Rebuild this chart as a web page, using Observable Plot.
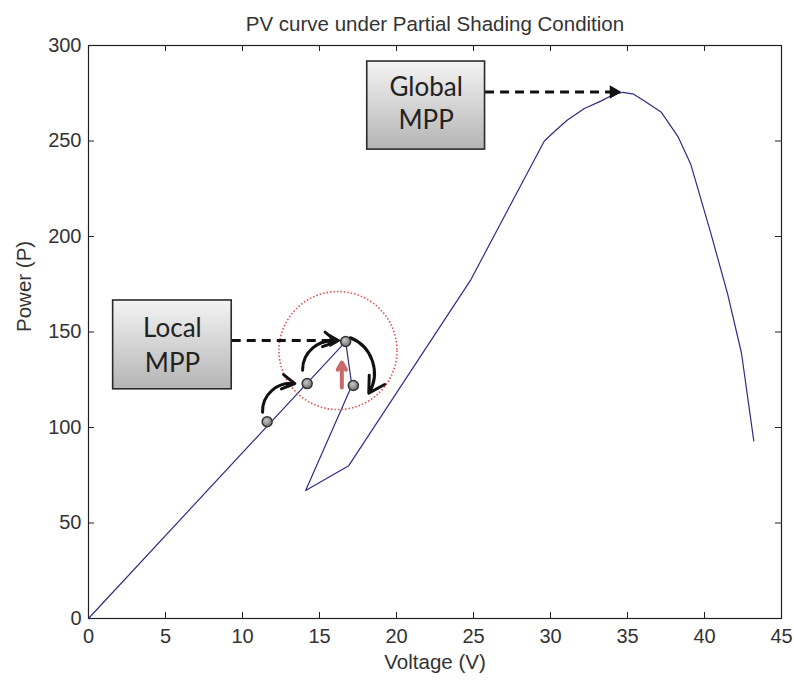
<!DOCTYPE html>
<html><head><meta charset="utf-8">
<script src="https://cdn.jsdelivr.net/npm/d3@7"></script>
<script src="https://cdn.jsdelivr.net/npm/@observablehq/plot@0.6"></script>
<style>html,body{margin:0;padding:0;background:#fff;}</style>
</head><body><div id="chart"></div>
<script>
const title = "PV curve under Partial Shading Condition";
const xLabel = "Voltage (V)";
const yLabel = "Power (P)";
const xTicks = [0, 5, 10, 15, 20, 25, 30, 35, 40, 45];
const yTicks = [0, 50, 100, 150, 200, 250, 300];

// PV curve
const voltage = [0, 16.7, 17.1, 14.1, 16.9, 24.8, 29.6, 30.4, 31.1, 32.2, 33.3, 34.0, 34.7, 35.4, 36.1, 37.2, 38.3, 39.1, 40.4, 41.5, 42.4, 43.2];
const power   = [0, 145, 122, 67, 80, 177, 250, 256, 261, 267, 271, 274, 275.5, 274.5, 271, 265, 252, 238, 202, 170, 139, 93];

// tracking points (local MPP search)
const trackVoltage = [11.6, 14.2, 16.7, 17.2];
const trackPower   = [103, 123, 145, 122];

// curved hop arrows between tracking points
const hopFromV = [11.3, 13.9, 17.0];
const hopFromP = [108, 130, 147];
const hopToV   = [13.4, 16.1, 18.2];
const hopToP   = [123, 145, 118];

// callout boxes
const calloutLine1 = ["Local", "Global"];
const calloutLine2 = ["MPP", "MPP"];
const boxV1 = [1.6, 18.1];
const boxV2 = [9.3, 25.75];
const boxP1 = [120, 245.5];
const boxP2 = [166.5, 291.6];
const line1P = [147.5, 273.8];
const line2P = [129, 256.4];

// dashed pointers
const pointerFromV = [9.3, 25.75];
const pointerToV   = [15.9, 34.1];
const pointerP     = [145.5, 275.6];

// red focus circle and small red arrow
const focusV = [16.2];
const focusP = [140.3];
const nudgeV = [16.45];
const nudgeFromP = [121];
const nudgeToP = [134];

const W = 794, H = 681, mL = 88, mR = 13, mT = 45, mB = 63;
const tickX = 6 * 45 / (W - mL - mR);
const tickY = 6 * 300 / (H - mT - mB);

const curve = voltage.map((v, i) => ({v, p: power[i]}));
const track = trackVoltage.map((v, i) => ({v, p: trackPower[i]}));
const hops = hopFromV.map((v, i) => ({v1: v, p1: hopFromP[i], v2: hopToV[i], p2: hopToP[i]}));
const boxes = boxV1.map((v, i) => ({v1: v, v2: boxV2[i], p1: boxP1[i], p2: boxP2[i], t1: calloutLine1[i], t2: calloutLine2[i], c: (v + boxV2[i]) / 2, l1: line1P[i], l2: line2P[i]}));
const pointers = pointerFromV.map((v, i) => ({v1: v, v2: pointerToV[i], p: pointerP[i]}));

const plot = Plot.plot({
  width: W, height: H,
  marginLeft: mL, marginRight: mR, marginTop: mT, marginBottom: mB,
  style: {fontFamily: "'Liberation Sans', Arial, sans-serif", background: "#fff", color: "#333"},
  x: {domain: [0, 45]},
  y: {domain: [0, 300]},
  marks: [
    Plot.axisX(xTicks, {tickSize: 0, tickPadding: 10, fontSize: 20, fill: "#333", label: null}),
    Plot.axisY(yTicks, {tickSize: 0, tickPadding: 7, fontSize: 20, fill: "#333", label: null}),
    Plot.ruleX(xTicks, {x: d => d, y1: 0, y2: tickY, stroke: "#222"}),
    Plot.ruleX(xTicks, {x: d => d, y1: 300 - tickY, y2: 300, stroke: "#222"}),
    Plot.ruleY(yTicks, {y: d => d, x1: 0, x2: tickX, stroke: "#222"}),
    Plot.ruleY(yTicks, {y: d => d, x1: 45 - tickX, x2: 45, stroke: "#222"}),
    Plot.frame({stroke: "#222", strokeWidth: 1.2}),
    Plot.text([title], {frameAnchor: "top", lineAnchor: "bottom", dy: -15, fontSize: 20.5, fill: "#333"}),
    Plot.text([xLabel], {frameAnchor: "bottom", lineAnchor: "bottom", dy: 50, fontSize: 20.5, fill: "#333"}),
    Plot.text([yLabel], {frameAnchor: "left", lineAnchor: "bottom", rotate: -90, dx: -58, fontSize: 20.5, fill: "#333"}),
    // curve
    Plot.line(curve, {x: "v", y: "p", stroke: "#2d2d85", strokeWidth: 1.2}),
    // focus circle
    Plot.dot(focusV.map((v, i) => ({v, p: focusP[i]})), {x: "v", y: "p", r: 59, stroke: "#e05050", strokeWidth: 1.6, strokeDasharray: "1.5,2", fill: "none"}),
    // red arrow
    Plot.arrow(nudgeV.map((v, i) => ({v, a: nudgeFromP[i], b: nudgeToP[i]})), {x1: "v", x2: "v", y1: "a", y2: "b", stroke: "#c0504d", strokeOpacity: 0.85, strokeWidth: 4, headLength: 8}),
    // hop arrows
    Plot.arrow(hops, {x1: "v1", y1: "p1", x2: "v2", y2: "p2", bend: 50, stroke: "#111", strokeWidth: 3, headLength: 9}),
    // tracking points
    Plot.dot(track, {x: "v", y: "p", r: 5, fill: "url(#dotGrad)", stroke: "#333", strokeWidth: 1.5}),
    // dashed pointers
    Plot.link(pointers, {x1: "v1", x2: "v2", y1: "p", y2: "p", stroke: "#111", strokeWidth: 3, strokeDasharray: "9,6"}),
    Plot.dot(pointers, {x: "v2", y: "p", symbol: "triangle", rotate: 90, r: 5, fill: "#111", stroke: "none"}),
    // callout boxes
    Plot.rect(boxes, {x1: "v1", x2: "v2", y1: "p1", y2: "p2", fill: "url(#boxGrad)", stroke: "#2a2a2a", strokeWidth: 1.6, ariaLabel: "callout"}),
    Plot.text(boxes, {x: "c", y: "l1", text: "t1", lineAnchor: "bottom", fontSize: 26, fontFamily: "Lato, 'Open Sans', sans-serif", fill: "#222"}),
    Plot.text(boxes, {x: "c", y: "l2", text: "t2", lineAnchor: "bottom", fontSize: 26, fontFamily: "Lato, 'Open Sans', sans-serif", fill: "#222"})
  ]
});

const ns = "http://www.w3.org/2000/svg";
const defs = document.createElementNS(ns, "defs");
defs.innerHTML = `
  <linearGradient id="boxGrad" x1="0" y1="0" x2="0" y2="1">
    <stop offset="0" stop-color="#f4f4f4"/>
    <stop offset="1" stop-color="#b4b4b4"/>
  </linearGradient>
  <radialGradient id="dotGrad" cx="0.4" cy="0.35" r="0.7">
    <stop offset="0" stop-color="#c8c8c8"/>
    <stop offset="1" stop-color="#6a6a6a"/>
  </radialGradient>
  <filter id="shadow" x="-20%" y="-20%" width="140%" height="140%">
    <feDropShadow dx="2.5" dy="2.5" stdDeviation="2" flood-color="#000" flood-opacity="0.3"/>
  </filter>`;
plot.insertBefore(defs, plot.firstChild);
const cg = plot.querySelector('g[aria-label="callout"]');
if (cg) cg.setAttribute("filter", "url(#shadow)");
document.getElementById("chart").appendChild(plot);
</script>
</body></html>
